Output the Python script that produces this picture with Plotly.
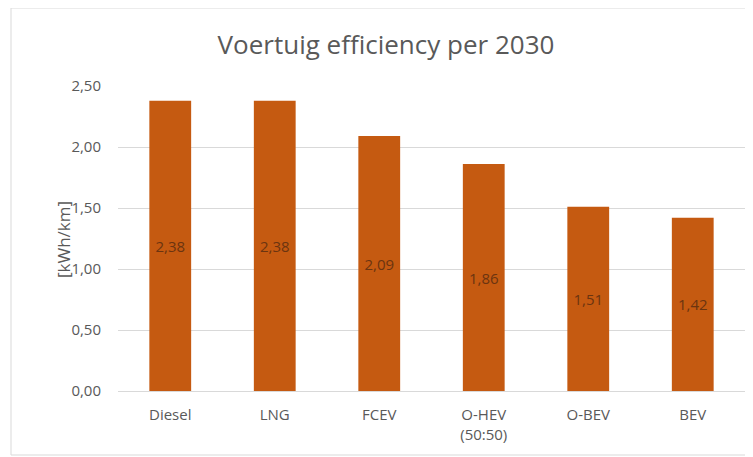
import plotly.graph_objects as go

categories = ["Diesel", "LNG", "FCEV", "O-HEV<br>(50:50)", "O-BEV", "BEV"]
values = [2.38, 2.38, 2.09, 1.86, 1.51, 1.42]
y_ticks = [0, 0.5, 1.0, 1.5, 2.0, 2.5]

FONT = "Open Sans, Lato, sans-serif"
fig = go.Figure(go.Bar(
    x=categories, y=values,
    marker=dict(color="#C55A11", line=dict(width=0)),
    texttemplate="%{y:.2f}", textposition="inside", insidetextanchor="middle",
    textfont=dict(color="#6b3410", size=15, family=FONT),
    cliponaxis=False,
))

# page body has 8px margin -> figure is offset by 8px
OFF = 8
W, H = 753 - OFF, 457 - OFF
L, R, T, B = 118 - OFF, 8, 86 - OFF, 66
pw, ph = W - L - R, H - T - B

fig.update_layout(
    width=W, height=H,
    margin=dict(l=L, r=R, t=T, b=B),
    paper_bgcolor="white", plot_bgcolor="white",
    separators=",.",
    bargap=0.6,
    showlegend=False,
    title=dict(text="Voertuig efficiency per 2030", x=(386 - OFF) / W, xanchor="center",
               y=1 - (45 - OFF) / H, yanchor="middle",
               font=dict(size=26, color="#595959", family=FONT)),
    xaxis=dict(tickfont=dict(size=15, color="#595959", family=FONT),
               showline=True, linecolor="#d9d9d9", linewidth=1,
               ticks="", showgrid=False, ticklabelstandoff=10),
    yaxis=dict(range=[0, 2.5], tickvals=y_ticks, tickformat=".2f",
               tickfont=dict(size=15, color="#595959", family=FONT),
               showgrid=True, gridcolor="#d9d9d9", gridwidth=1,
               zeroline=False, ticks="", ticklen=0, ticklabelstandoff=16),
    annotations=[dict(text="[kWh/km]", textangle=-90, showarrow=False,
                      xref="paper", yref="paper",
                      x=(52 - 118) / pw, y=(391 - 240) / ph,
                      xanchor="center", yanchor="middle", xshift=12,
                      font=dict(size=17, color="#595959", family=FONT))],
    shapes=[dict(type="rect", xref="paper", yref="paper",
                 x0=(11 - 118) / pw, x1=(760 - 118) / pw,
                 y0=(391 - 455) / ph, y1=(391 - 8) / ph,
                 line=dict(color="#d9d9d9", width=1), fillcolor="rgba(0,0,0,0)",
                 layer="below")],
)

fig.write_html("out.html")
